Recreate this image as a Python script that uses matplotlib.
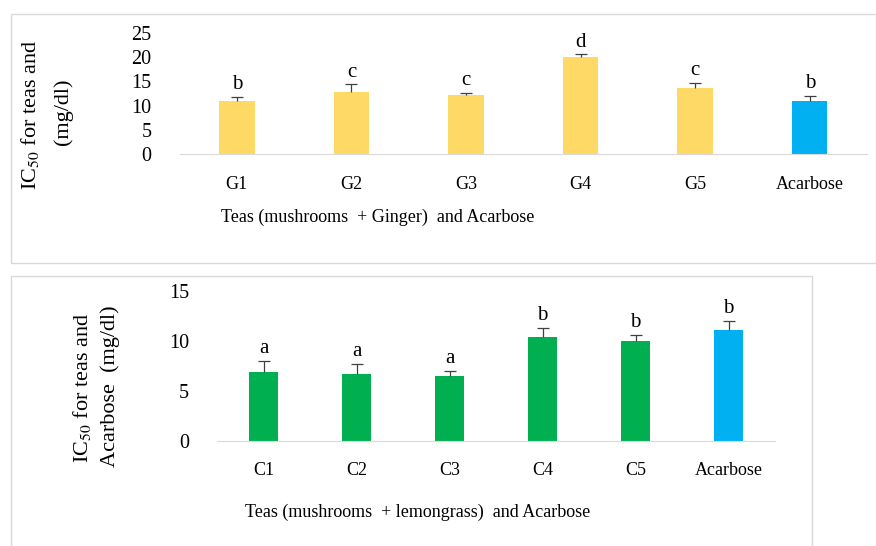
import matplotlib
matplotlib.use('Agg')
import matplotlib.pyplot as plt
from matplotlib.patches import Rectangle
import numpy as np

# Top panel: teas with ginger
ginger_labels = ['G1', 'G2', 'G3', 'G4', 'G5', 'Acarbose']
ginger_values = [10.9, 12.8, 12.1, 20.1, 13.6, 11.0]
ginger_err = [0.9, 1.6, 0.6, 0.5, 1.1, 1.0]
ginger_letters = ['b', 'c', 'c', 'd', 'c', 'b']

# Bottom panel: teas with lemongrass
lemon_labels = ['C1', 'C2', 'C3', 'C4', 'C5', 'Acarbose']
lemon_values = [6.9, 6.7, 6.5, 10.4, 10.0, 11.1]
lemon_err = [1.1, 1.0, 0.5, 0.9, 0.6, 0.9]
lemon_letters = ['a', 'a', 'a', 'b', 'b', 'b']

YELLOW = '#FFD966'
GREEN = '#00B050'
BLUE = '#00B0F0'
GRID = '#D9D9D9'

plt.rcParams['font.family'] = ['Liberation Serif', 'DejaVu Serif']
plt.rcParams['mathtext.fontset'] = 'stix'

W, H = 876, 546
fig = plt.figure(figsize=(W / 100, H / 100), dpi=100)


def px_axes(x0, y0, x1, y1):
    """Axes from pixel box (top-left origin)."""
    return fig.add_axes([x0 / W, 1 - y1 / H, (x1 - x0) / W, (y1 - y0) / H])


def px_text(x, y, s, **kw):
    fig.text(x / W, 1 - y / H, s, **kw)


def frame(x0, y0, x1, y1):
    fig.patches.append(Rectangle((x0 / W, 1 - y1 / H), (x1 - x0) / W, (y1 - y0) / H,
                                 transform=fig.transFigure, fill=False,
                                 edgecolor=GRID, linewidth=1.0))


def bar_panel(ax, labels, values, err, letters, colors, ymax, step, xpad):
    x = np.arange(len(labels))
    lower = np.zeros(len(err))
    ax.bar(x, values, width=0.31, color=colors, zorder=2)
    eb = ax.errorbar(x, values, yerr=[lower, err], fmt='none', ecolor='#404040',
                     elinewidth=0.9, capsize=4, capthick=0.9, zorder=3)
    # only the upper cap is drawn in the original
    eb[1][0].set_visible(False)
    for xi, v, e, letter in zip(x, values, err, letters):
        ax.annotate(letter, (xi, v + e), xytext=(0, 2), textcoords='offset points',
                    ha='center', va='bottom', fontsize=15)
    ax.set_xlim(-0.5, len(labels) - 0.5)
    ax.set_ylim(0, ymax)
    ax.set_yticks(np.arange(0, ymax + 1, step))
    ax.set_xticks(x)
    ax.set_xticklabels(labels)
    ax.tick_params(axis='both', length=0)
    ax.tick_params(axis='x', pad=xpad, labelsize=13)
    ax.tick_params(axis='y', pad=20, labelsize=14.5)
    for side in ['top', 'right', 'left']:
        ax.spines[side].set_visible(False)
    ax.spines['bottom'].set_color(GRID)
    ax.patch.set_alpha(0)


# frames around each panel
frame(10.5, 14, 875.5, 263)
frame(10.5, 276, 811.5, 560)

ax1 = px_axes(179.5, 33, 867, 154)
bar_panel(ax1, ginger_labels, ginger_values, ginger_err, ginger_letters,
          [YELLOW] * 5 + [BLUE], 25, 5, 16)
px_text(30, 115, r'IC$_{50}$ for teas and', rotation=90, ha='center', va='center', fontsize=16)
px_text(63, 112, '(mg/dl)', rotation=90, ha='center', va='center', fontsize=16)
px_text(378, 217, 'Teas (mushrooms  + Ginger)  and Acarbose', ha='center', va='center',
        fontsize=13)

ax2 = px_axes(217, 291, 775, 441)
bar_panel(ax2, lemon_labels, lemon_values, lemon_err, lemon_letters,
          [GREEN] * 5 + [BLUE], 15, 5, 15)
px_text(82, 388, r'IC$_{50}$ for teas and', rotation=90, ha='center', va='center', fontsize=16)
px_text(110, 386, 'Acarbose  (mg/dl)', rotation=90, ha='center', va='center', fontsize=16)
px_text(418, 512, 'Teas (mushrooms  + lemongrass)  and Acarbose', ha='center', va='center',
        fontsize=13)

fig.savefig('out.png', dpi=100)
